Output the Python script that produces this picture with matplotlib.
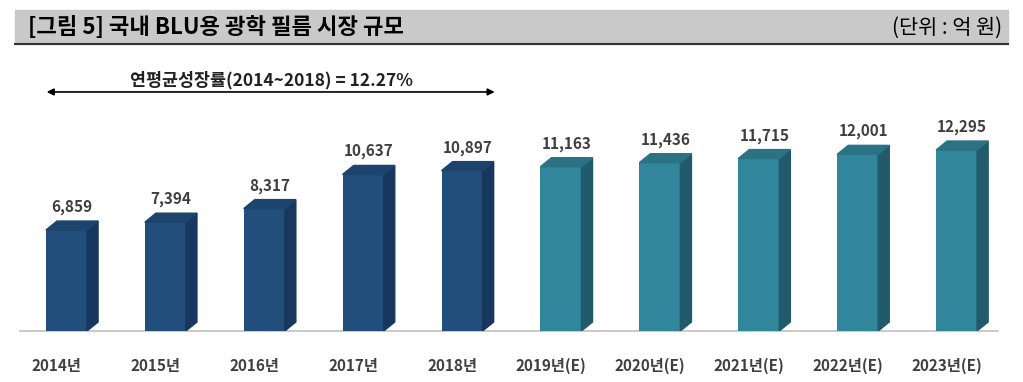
import matplotlib.pyplot as plt
from matplotlib.patches import Polygon, Rectangle

plt.rcParams['font.family'] = ['Noto Sans CJK KR', 'DejaVu Sans']

years = ['2014년', '2015년', '2016년', '2017년', '2018년',
         '2019년(E)', '2020년(E)', '2021년(E)', '2022년(E)', '2023년(E)']
values = [6859, 7394, 8317, 10637, 10897, 11163, 11436, 11715, 12001, 12295]
is_forecast = [False] * 5 + [True] * 5

title = '[그림 5] 국내 BLU용 광학 필름 시장 규모'
unit = '(단위 : 억 원)'
cagr_text = '연평균성장률(2014~2018) = 12.27%'

navy = ('#214e7b', '#17375e', '#1c446d')   # front, side, top
teal = ('#31869c', '#215a6a', '#2a7284')

fig = plt.figure(figsize=(10.23, 3.82), dpi=100)
ax = fig.add_axes([17 / 1023, 51 / 382, 989 / 1023, 281 / 382])
ax.set_xlim(-0.5, 9.5)
ax.set_ylim(0, 19090)
ax.axis('off')

w = 0.415
dx, dy = 0.112, 610
for i, v in enumerate(values):
    front, side, top = teal if is_forecast[i] else navy
    x0, x1 = i - w / 2, i + w / 2
    ax.bar(i, v, width=w, color=front, zorder=3)
    ax.add_patch(Polygon([(x1, 0), (x1 + dx, dy), (x1 + dx, v + dy), (x1, v)],
                         closed=True, color=side, zorder=3))
    ax.add_patch(Polygon([(x0, v), (x0 + dx, v + dy), (x1 + dx, v + dy), (x1, v)],
                         closed=True, color=top, zorder=3))
    ax.text(i + dx / 2, v + 1560, f'{v:,}', ha='center', va='center',
            fontsize=11, fontweight='bold', color='#3f3f3f')
    ax.text(i - 0.1, -2380, years[i], ha='center', va='center',
            fontsize=11, fontweight='bold', color='#404040')

# baseline
ax.plot([-0.47, 9.42], [0, 0], color='#c0c0c0', lw=1.2, zorder=2, clip_on=False)

# CAGR arrow
ax.annotate('', xy=(-0.2, 16240), xytext=(4.33, 16240),
            arrowprops=dict(arrowstyle='<|-|>', color='black', lw=1.2,
                            mutation_scale=10, shrinkA=0, shrinkB=0))
ax.text(2.07, 17050, cagr_text, ha='center', va='center',
        fontsize=12.5, fontweight='bold', color='#222222')

# title band
fig.patches.append(Rectangle((15 / 1023, 1 - 44 / 382), 993 / 1023, 34 / 382,
                             transform=fig.transFigure, color='#c9c9c9', zorder=0))
fig.lines.append(plt.Line2D([15 / 1023, 1008 / 1023], [1 - 44 / 382, 1 - 44 / 382],
                            transform=fig.transFigure, color='#333333', lw=1.5))
fig.text(28 / 1023, 1 - 28 / 382, title, ha='left', va='center',
         fontsize=16, fontweight='bold', color='black')
fig.text(1002 / 1023, 1 - 28 / 382, unit, ha='right', va='center',
         fontsize=15, color='black')

fig.savefig('out.png', dpi=100)
